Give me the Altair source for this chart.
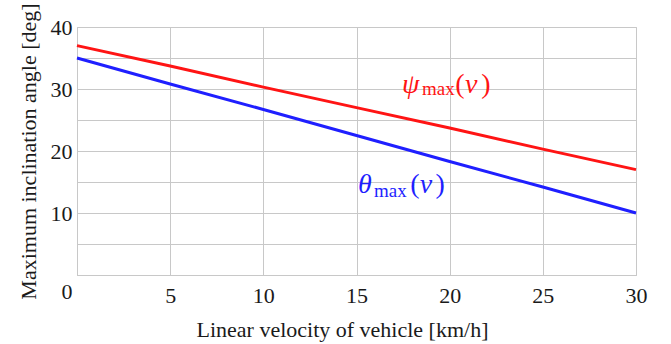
import altair as alt
import pandas as pd

# ---- data ----
velocity = [0, 5, 10, 15, 20, 25, 30]
psi_max = [37.0, 33.7, 30.3, 27.0, 23.7, 20.3, 17.0]
theta_max = [35.0, 30.8, 26.7, 22.5, 18.3, 14.2, 10.0]
series_names = ["psi", "theta"]
series_colors = ["#ff1414", "#1f1fff"]

x_ticks = [0, 5, 10, 15, 20, 25, 30]
y_ticks = [0, 5, 10, 15, 20, 25, 30, 35, 40]

# annotation pieces: (series, text, v, angle, italic, font size)
ann_series = ["psi", "psi", "psi", "psi", "psi",
              "theta", "theta", "theta", "theta", "theta"]
ann_text = ["ψ", "max", "(", "v", ")", "θ", "max", "(", "v", ")"]
ann_v = [17.44, 18.52, 20.30, 20.82, 21.70, 15.08, 15.94, 17.88, 18.40, 19.24]
ann_angle = [29.35, 29.0, 29.35, 29.35, 29.35, 13.23, 12.58, 13.23, 13.23, 13.23]
ann_italic = [True, False, False, True, False, True, False, False, True, False]
ann_size = [28, 19, 28, 28, 28, 28, 19, 28, 28, 28]

FONT = "Liberation Serif"
GRID = "#c8c8c8"

rows = []
for v, p, t in zip(velocity, psi_max, theta_max):
    rows.append({"v": v, "angle": p, "series": "psi"})
    rows.append({"v": v, "angle": t, "series": "theta"})
df = pd.DataFrame(rows)

ann = pd.DataFrame({
    "series": ann_series, "text": ann_text, "v": ann_v, "angle": ann_angle,
    "italic": ann_italic, "fsize": ann_size,
})

x_enc = alt.X(
    "v:Q",
    scale=alt.Scale(domain=[0, 30], nice=False, zero=False),
    axis=alt.Axis(
        values=x_ticks,
        labelExpr="datum.value == 0 ? '' : datum.label",
        title="Linear velocity of vehicle [km/h]",
        labelFlush=False,
        labelOverlap=False,
        labelBaseline="alphabetic",
        labelPadding=27,
        titleX=265,
        titleY=61,
        titleBaseline="alphabetic",
        titleAlign="center",
    ),
)
y_enc = alt.Y(
    "angle:Q",
    scale=alt.Scale(domain=[0, 40], nice=False, zero=False),
    axis=alt.Axis(
        values=y_ticks,
        labelExpr="datum.value % 10 == 0 ? datum.label : ''",
        title="Maximum inclination angle [deg]",
        labelFlush=False,
        labelOverlap=False,
        labelPadding=5,
        labelOffset={"condition": {"test": "datum.value === 0", "value": 16}, "value": 0},
        titleX=-42,
        titleY=124,
        titleBaseline="alphabetic",
        titleAlign="center",
        titleAngle=270,
    ),
)
color_enc = alt.Color(
    "series:N",
    scale=alt.Scale(domain=series_names, range=series_colors),
    legend=None,
)

lines = alt.Chart(df).mark_line(strokeWidth=3).encode(
    x=x_enc, y=y_enc, color=color_enc, detail="series:N"
)

ann_it = alt.Chart(ann).transform_filter("datum.italic").mark_text(
    font=FONT, fontStyle="italic", align="left", baseline="alphabetic"
).encode(
    x=x_enc, y=y_enc, text="text:N", color=color_enc,
    size=alt.Size("fsize:Q", scale=None),
)
ann_up = alt.Chart(ann).transform_filter("!datum.italic").mark_text(
    font=FONT, align="left", baseline="alphabetic"
).encode(
    x=x_enc, y=y_enc, text="text:N", color=color_enc,
    size=alt.Size("fsize:Q", scale=None),
)

chart = alt.layer(lines, ann_it, ann_up).properties(
    width=559,
    height=248,
    autosize=alt.AutoSizeParams(type="none"),
    padding={"left": 77, "top": 27, "right": 35, "bottom": 69},
    background="white",
).configure_view(
    stroke=GRID, strokeWidth=1
).configure_axis(
    grid=True,
    gridColor=GRID,
    gridWidth=1,
    gridOpacity=1,
    domainColor=GRID,
    domainWidth=1,
    ticks=False,
    tickSize=0,
    labelFont=FONT,
    labelFontSize=22,
    labelColor="#1a1a1a",
    titleFont=FONT,
    titleFontSize=22,
    titleFontWeight="normal",
    titleColor="#1a1a1a",
)

chart.save("out.html", embed_options={"renderer": "svg", "actions": False})
